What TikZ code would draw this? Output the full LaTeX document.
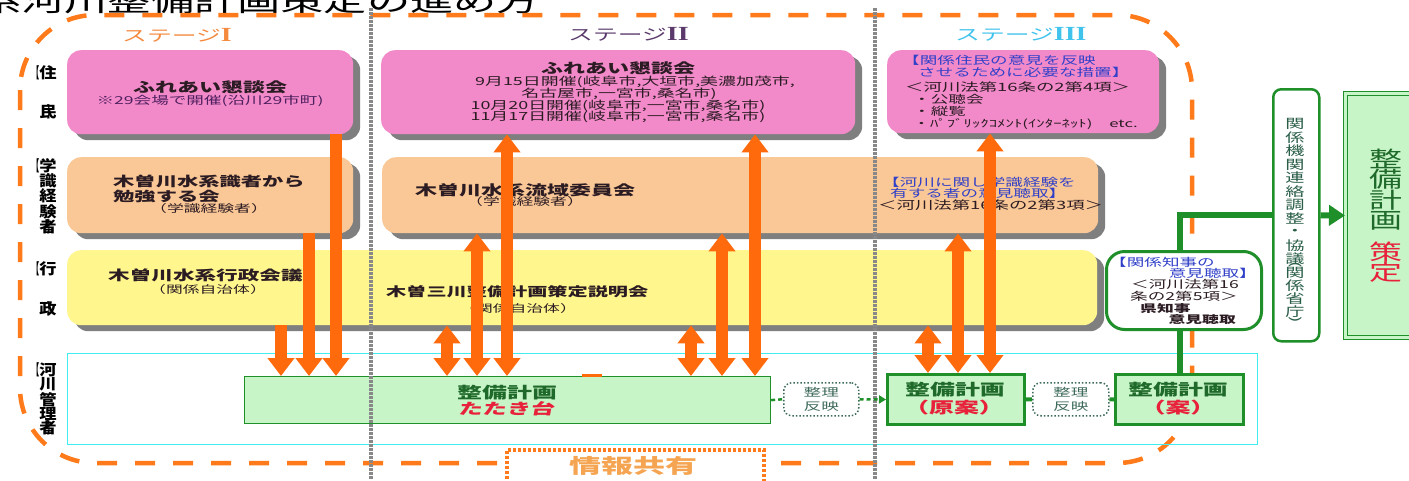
\documentclass[tikz,border=0pt]{standalone}
\usepackage{fontspec}
\usepackage{graphicx}
\setmainfont{Noto Sans CJK JP}[FakeStretch=1.6]
\newfontfamily\jpb{Noto Sans CJK JP}[FakeStretch=1.5]
\newfontfamily\jpv{Noto Sans CJK JP}[FakeStretch=1.5]
\newfontfamily\jpl{Noto Sans CJK JP}[FakeStretch=1.15]
\newfontfamily\jpi{Noto Sans CJK JP}[FakeStretch=1.6,FakeSlant=0.18]
\newfontfamily\romn{Liberation Serif}[FakeStretch=1.4]
\usetikzlibrary{arrows.meta}
\newcommand\fz[2]{\fontsize{#1}{#2}\selectfont}
\newcommand\lbr{\llap{\scalebox{0.45}[1]{【}}}
\newcommand\rbr{\llap{\scalebox{0.45}[1]{】}\kern2pt}}
\newcommand\rn[1]{{\romn\bfseries\fz{20}{20}#1}}
\definecolor{pinkc}{HTML}{F28ACA}
\definecolor{peachc}{HTML}{FAC796}
\definecolor{yellowc}{HTML}{FFF78E}
\definecolor{shadowc}{HTML}{7F7F7F}
\definecolor{gfill}{HTML}{C8F5C8}
\definecolor{greenc}{HTML}{1F8F2A}
\definecolor{cyanc}{HTML}{40EEF0}
\definecolor{orangec}{HTML}{FF6A0C}
\definecolor{orangec2}{HTML}{FF7A1A}
\definecolor{sepc}{HTML}{888888}
\definecolor{darkc}{HTML}{2B1B22}
\definecolor{purpc}{HTML}{4F1F5F}
\definecolor{bluec}{HTML}{3040C8}
\definecolor{gtext}{HTML}{1F6A2A}
\definecolor{redc}{HTML}{E8203A}
\definecolor{s1c}{HTML}{F5893D}
\definecolor{s2c}{HTML}{5B3A6B}
\definecolor{s3c}{HTML}{3FC3EC}
\definecolor{tealc}{HTML}{3E6A5C}
\definecolor{johoc}{HTML}{F5A552}
\definecolor{talltc}{HTML}{2A5E48}
\begin{document}
\begin{tikzpicture}[x=1pt,y=-1pt,
  shadowbox/.style={rounded corners=14pt, inner sep=0pt, anchor=north west,
    preaction={fill=shadowc, transform canvas={xshift=7pt,yshift=-6pt}}},
  pinkbox/.style={shadowbox, fill=pinkc},
  peachbox/.style={shadowbox, fill=peachc},
  yellowbox/.style={shadowbox, fill=yellowc},
  planbox/.style={anchor=north west, inner sep=0pt, fill=gfill, draw=greenc},
  memobox/.style={anchor=north west, inner sep=0pt, fill=white, draw=tealc, dotted,
    line width=1.5pt, rounded corners=8pt, align=center, text=tealc, font=\fz{11}{14}},
  txt/.style={inner sep=0pt, text=darkc},
  vtxt/.style={inner sep=0pt, text=talltc, font=\jpv\fz{12.8}{14}},
  lab/.style={inner sep=0pt, align=center, text=black},
  oarr/.style={draw=orangec, line width=12pt, -{Triangle[length=18pt,width=26pt]}},
  oarrr/.style={draw=orangec, line width=12pt, {Triangle[length=18pt,width=26pt]}-{Triangle[length=18pt,width=26pt]}},
  gline/.style={draw=greenc, line width=6pt},
  sepline/.style={draw=sepc, line width=4pt, dash pattern=on 2.5pt off 1.5pt},
  odash/.style={draw=orangec2, line width=4.5pt, dash pattern=on 20pt off 18pt, rounded corners=75pt}
]
\useasboundingbox (0,0) rectangle (1409,480);
\fill[white] (0,0) rectangle (1409,480);

% title
\node[anchor=base east, inner sep=0pt, font=\fz{27}{30}] (title) at (540,11) {系河川整備計画策定の進め方};

% outer dashed boundary
\draw[odash] (20,15) rectangle (1192,463);

% stage labels
\node[txt, text=s1c, font=\fz{15.5}{18}, anchor=west] (s1) at (122,35) {ステージ\rn{I}};
\node[txt, text=s2c, font=\fz{15.5}{18}, anchor=west] (s2) at (568,34) {ステージ\rn{II}};
\node[txt, text=s3c, font=\fz{15.5}{18}, anchor=west] (s3) at (955,34) {ステージ\rn{III}};

% row labels
\node[lab, font=\jpl\bfseries\fz{15}{39}] (l1) at (48,92) {\lbr 住\\民\rbr};
\node[lab, font=\jpl\bfseries\fz{15}{14.2}] (l2) at (48,196) {\lbr 学\\識\\経\\験\\者\rbr};
\node[lab, font=\jpl\bfseries\fz{15}{40}] (l3) at (48,289) {\lbr 行\\政\rbr};
\node[lab, font=\jpl\bfseries\fz{15}{14.2}] (l4) at (48,399) {\lbr 河\\川\\管\\理\\者\rbr};

% row boxes
\node[pinkbox, minimum width=286pt, minimum height=84pt] (p1) at (67,50) {};
\node[pinkbox, minimum width=474pt, minimum height=84pt] (p2) at (381,50) {};
\node[pinkbox, minimum width=272pt, minimum height=83pt] (p3) at (887,50) {};
\node[peachbox, minimum width=286pt, minimum height=76pt] (pe1) at (67,157) {};
\node[peachbox, minimum width=716pt, minimum height=76pt] (pe2) at (382,157) {};
\node[yellowbox, minimum width=1030pt, minimum height=75pt] (ye) at (67,250) {};
\node[anchor=north west, inner sep=0pt, draw=cyanc, line width=1.2pt,
      minimum width=1190pt, minimum height=91pt] (cy) at (67,353) {};

% plan boxes
\node[planbox, line width=1.2pt, minimum width=526pt, minimum height=47pt] (tataki) at (244,376) {};
\node[planbox, line width=3pt, minimum width=137pt, minimum height=50pt] (gen) at (886,373) {};
\node[planbox, line width=3pt, minimum width=128pt, minimum height=50pt] (an) at (1114,373) {};
\node[memobox, minimum width=75pt, minimum height=33pt] (d1) at (783,382) {整理\\反映};
\node[memobox, minimum width=76pt, minimum height=33pt] (d2) at (1032,382) {整理\\反映};
\draw[orangec, line width=3pt] (582,375) -- (602,375);

% governor box, liaison box, final box
\node[anchor=north west, inner sep=0pt, fill=white, draw=greenc, line width=3pt, rounded corners=18pt,
      minimum width=155pt, minimum height=78pt] (chiji) at (1105,250) {};
\node[anchor=north west, inner sep=0pt, fill=white, draw=greenc, line width=2.5pt, rounded corners=8pt,
      minimum width=46pt, minimum height=252pt] (tall) at (1272,88) {};
\foreach \c/\y [count=\i] in {関/124,係/137.5,機/151,関/164.5,連/178,絡/191.5,調/205,整/218.5,・/232,協/245.5,議/258.5,関/272.5,係/285.5,省/298.5,庁/311.5}
  \node[vtxt] (tc\i) at (1295,\y) {\c};
\node[vtxt, rotate=-90] (tpa) at (1295,265) {(};
\node[vtxt, rotate=-90] (tpb) at (1295,320) {)};
\node[anchor=north west, inner sep=0pt, fill=gfill, draw=greenc, line width=1pt, double=gfill,
      double distance=2.5pt, minimum width=80pt, minimum height=244pt, align=center,
      font=\jpb\fz{22}{20.5}] (sak) at (1345,93)
      {\textcolor{gtext}{整}\\\textcolor{gtext}{備}\\\textcolor{gtext}{計}\\\textcolor{gtext}{画}\\[11pt]\textcolor{redc}{策}\\\textcolor{redc}{定}};

% info sharing box
\node[anchor=north west, inner sep=0pt, fill=white, draw=orangec2, line width=3.5pt,
      dash pattern=on 3pt off 2pt, minimum width=257pt, minimum height=50pt] (joho) at (505,448) {};
\node[txt, text=johoc, font=\bfseries\fz{20}{22}] (jt) at (633,466) {情報共有};

% stage separators
\draw[sepline] (371,8) -- (371,480);
\draw[sepline] (875,8) -- (875,480);

% texts: pink
\node[txt, font=\bfseries\fz{13.75}{16}] (t1) at (210,87) {ふれあい懇談会};
\node[txt, text=purpc, font=\fz{11}{13}] (t2) at (210,101) {※29会場で開催(沿川29市町)};
\node[txt, font=\bfseries\fz{13.75}{16}] (t3) at (618,68) {ふれあい懇談会};
\node[txt, font=\fz{11.2}{13}] (t4) at (635,82) {9月15日開催(岐阜市,大垣市,美濃加茂市,};
\node[txt, font=\fz{11.2}{13}] (t5) at (619,94) {名古屋市,一宮市,桑名市)};
\node[txt, font=\fz{11.2}{13}] (t6) at (618,106) {10月20日開催(岐阜市,一宮市,桑名市)};
\node[txt, font=\fz{11.2}{13}] (t7) at (618,117) {11月17日開催(岐阜市,一宮市,桑名市)};
\node[txt, text=bluec, font=\fz{11}{13}, anchor=west] (t8) at (902,60) {【関係住民の意見を反映};
\node[txt, text=bluec, font=\fz{11}{13}, anchor=west] (t9) at (918,72) {させるために必要な措置】};
\node[txt, font=\fz{11.5}{13}, anchor=west] (t10) at (905,87) {＜河川法第16条の2第4項＞};
\node[txt, font=\fz{11}{13}, anchor=west] (t11) at (913,99) {・公聴会};
\node[txt, font=\fz{11}{13}, anchor=west] (t12) at (913,111) {・縦覧};
\node[txt, font=\fz{10.5}{13}, anchor=west] (t13) at (913,124) {・ﾊﾟﾌﾞﾘｯｸｺﾒﾝﾄ(ｲﾝﾀｰﾈｯﾄ)　etc.};

% texts: peach
\node[txt, font=\bfseries\fz{13.3}{16}, anchor=west] (t14) at (113,181) {木曽川水系識者から};
\node[txt, font=\bfseries\fz{13.3}{16}, anchor=west] (t15) at (113,196) {勉強する会};
\node[txt, font=\fz{10.5}{13}] (t16) at (209,209) {（学識経験者）};
\node[txt, font=\bfseries\fz{13.75}{16}, anchor=west] (t17) at (415,190) {木曽川水系流域委員会};
\node[txt, font=\fz{10.5}{13}] (t18) at (525,202) {（学識経験者）};
\node[txt, text=bluec, font=\fz{11}{13}, anchor=west] (t19) at (882,182) {【河川に関し学識経験を};
\node[txt, text=bluec, font=\fz{11}{13}, anchor=west] (t20) at (890,193) {有する者の意見聴取】};
\node[txt, font=\fz{11.5}{13}, anchor=west] (t21) at (878,205) {＜河川法第16条の2第3項＞};

% texts: yellow
\node[txt, font=\bfseries\fz{13.5}{16}, anchor=west] (t22) at (108,275) {木曽川水系行政会議};
\node[txt, font=\fz{10.5}{13}] (t23) at (208,290) {（関係自治体）};
\node[txt, font=\bfseries\fz{12.6}{15}, anchor=west] (t24) at (386,292) {木曽三川整備計画策定説明会};
\node[txt, font=\fz{10.5}{13}] (t25) at (518,309) {（関係自治体）};

% texts: plan boxes
\node[txt, text=gtext, font=\bfseries\fz{15.6}{18}, anchor=west] (t26) at (457,393) {整備計画};
\node[txt, text=redc, font=\jpi\bfseries\fz{15}{18}, anchor=west] (t27) at (458,409) {たたき台};
\node[txt, text=gtext, font=\bfseries\fz{15.6}{18}] (t28) at (955,390) {整備計画};
\node[txt, text=redc, font=\bfseries\fz{15.6}{18}] (t29) at (954,408) {（原案）};
\node[txt, text=gtext, font=\bfseries\fz{15.6}{18}] (t30) at (1178,390) {整備計画};
\node[txt, text=redc, font=\bfseries\fz{15.6}{18}] (t31) at (1178,408) {（案）};

% texts: governor box
\node[txt, text=bluec, font=\fz{11}{13}, anchor=west] (t34) at (1109,262) {【関係知事の};
\node[txt, text=bluec, font=\fz{11}{13}, anchor=east] (t35) at (1257,273) {意見聴取】};
\node[txt, font=\fz{11}{13}] (t36) at (1185,284) {＜河川法第16};
\node[txt, font=\fz{11}{13}] (t37) at (1184,296) {条の2第5項＞};
\node[txt, font=\bfseries\fz{10.5}{13}, anchor=west] (t38) at (1140,309) {県知事};
\node[txt, font=\bfseries\fz{10.5}{13}, anchor=east] (t39) at (1236,320) {意見聴取};

% orange arrows
\coordinate (xa) at (281,0);
\coordinate (xb) at (309,0);
\coordinate (xc) at (336,0);
\coordinate (xd) at (447,0);
\coordinate (xe) at (477,0);
\coordinate (xf) at (507,0);
\coordinate (xg) at (691,0);
\coordinate (xh) at (722,0);
\coordinate (xi) at (755,0);
\coordinate (xj) at (928,0);
\coordinate (xk) at (958,0);
\coordinate (xl) at (990,0);
\draw[oarr] (xa |- ye.south) -- (xa |- tataki.north);
\draw[oarr] (xb |- pe1.south) -- (xb |- tataki.north);
\draw[oarr] (xc |- p1.south) -- (xc |- tataki.north);
\draw[oarrr] (xd |- ye.south) -- (xd |- tataki.north);
\draw[oarrr] (xe |- pe2.south) -- (xe |- tataki.north);
\draw[oarrr] (xf |- p2.south) -- (xf |- tataki.north);
\draw[oarrr] (xg |- ye.south) -- (xg |- tataki.north);
\draw[oarrr] (xh |- pe2.south) -- (xh |- tataki.north);
\draw[oarrr] (xi |- p2.south) -- (xi |- tataki.north);
\draw[oarrr] (xj |- ye.south) -- (xj |- gen.north);
\draw[oarrr] (xk |- pe2.south) -- (xk |- gen.north);
\draw[oarrr] (xl |- p3.south) -- (xl |- gen.north);

% green connectors
\draw[draw=greenc, line width=2.5pt, dash pattern=on 4pt off 3pt] (tataki.east) -- (d1.west);
\draw[draw=greenc, line width=2.5pt, dash pattern=on 4pt off 3pt, -{Triangle[length=7pt,width=8pt]}] (d1.east) -- (gen.west);
\draw[draw=greenc, line width=4pt] (gen.east) -- (d2.west);
\draw[draw=greenc, line width=4pt] (d2.east) -- (an.west);
\draw[gline] (an.north) -- (an.north |- chiji.south);
\draw[gline] (an.north |- chiji.north) |- (tall.west);
\draw[gline, -{Triangle[length=16pt,width=20pt]}] (tall.east) -- (sak.west);
\end{tikzpicture}
\end{document}
